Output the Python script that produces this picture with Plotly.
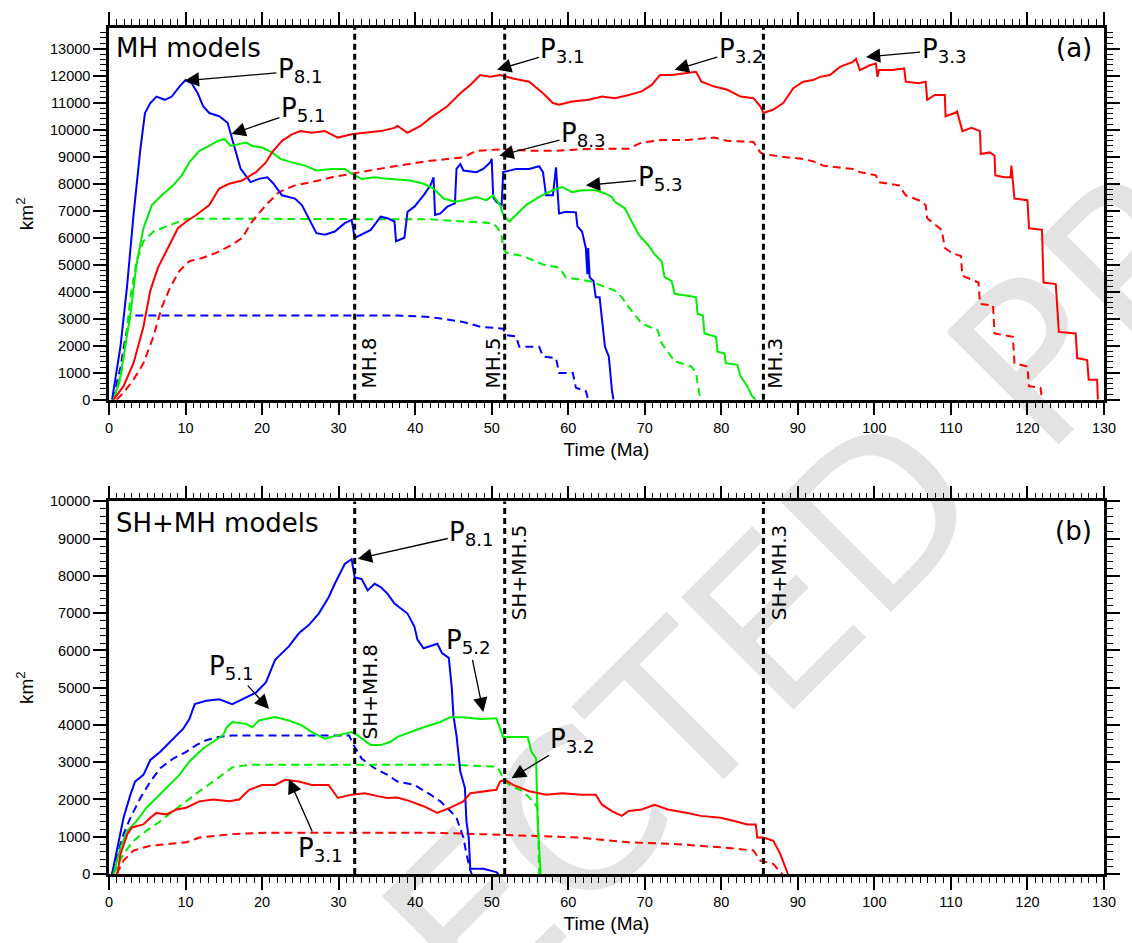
import plotly.graph_objects as go

# ---------------- DATA (Time in Ma, area in km^2) ----------------
# Panel (a): MH models
blue_mh_solid = [(0.4,0),(1.5,1976),(2.35,4170),(3.2,6840),(4.1,9280),(4.7,10620),(5.4,10990),(6.2,11230),
    (7.3,11110),(8.2,11230),(9.2,11600),(10.0,11840),(10.8,11720),(11.6,11350),(12.3,10870),(13.1,10620),
    (14.4,10500),(15.5,10260),(16.1,9650),(16.6,9160),(17.2,8550),(18.5,8060),(19.6,8180),(20.7,8240),
    (21.5,8000),(22.6,7570),(24.3,7450),(25.2,7210),(26.1,6720),(27.1,6170),(28.2,6110),(29.5,6230),
    (30.8,6540),(31.7,6660),(32.1,5990),(33.0,6110),(34.2,6290),(35.5,6780),(36.4,6720),(37.3,6600),
    (37.5,5870),(38.6,6000),(39.0,6960),(39.9,7150),(41.1,7570),(42.0,7940),(42.4,8240),(42.6,6840),
    (43.3,6900),(44.2,7150),(45.2,7270),(45.4,8550),(45.9,8730),(46.3,8490),(48.0,8430),(48.9,8550),
    (49.8,8790),(50.0,8920),(50.2,7510),(50.6,7330),(51.3,7210),(51.5,8430),(52.3,8490),(53.2,8550),
    (54.9,8550),(56.2,8650),(56.7,8430),(57.1,7570),(58.0,7570),(58.4,8610),(58.8,6900),(59.7,6960),
    (61.0,6940),(61.2,6420),(61.8,6230),(62.3,5620),(62.5,4650),(62.6,5620),(62.8,4530),(63.3,4400),
    (63.6,3790),(64.1,3790),(64.8,1960),(65.3,1600),(65.7,380),(65.9,0)]
blue_mh_dash = [(0.5,0),(1.5,1200),(2.2,2400),(2.8,3120),(10,3120),(20,3120),(30,3120),(37.7,3120),
    (42.0,3060),(46.3,2880),(48.5,2700),(51.5,2630),(51.9,2390),(53.2,2340),(53.6,1960),(56.2,1960),
    (56.7,1600),(58.4,1540),(58.8,990),(60.6,990),(61.0,440),(62.3,320),(62.6,0)]
green_mh_solid = [(0.6,0),(1.5,880),(2.8,3180),(3.6,5010),(4.5,6350),(5.6,7210),(6.9,7570),(8.4,7940),
    (9.5,8310),(10.5,8790),(11.8,9220),(13.1,9400),(14.2,9590),(15.1,9650),(15.9,9400),(17.0,9470),
    (17.9,9530),(18.7,9400),(20.0,9340),(21.3,9160),(22.4,8920),(23.9,8790),(25.6,8670),(27.1,8490),
    (29.1,8550),(30.8,8550),(31.7,8370),(33.0,8180),(34.7,8240),(36.4,8180),(37.7,8150),(39.4,8120),
    (41.1,8000),(42.4,7820),(43.7,7450),(45.2,7330),(46.3,7390),(48.0,7510),(49.3,7390),(50.2,7570),
    (51.1,7210),(51.5,6840),(52.3,6600),(53.2,6840),(54.5,7210),(56.2,7510),(58.0,7760),(59.2,7880),
    (60.5,7690),(61.8,7760),(63.6,7760),(64.8,7640),(65.7,7510),(66.1,7330),(67.4,7090),(68.3,6600),
    (69.2,6110),(70.4,5740),(71.3,5380),(72.2,5130),(72.6,4530),(73.5,4400),(73.9,3920),(75.6,3850),
    (76.7,3790),(76.9,3180),(77.6,3120),(77.8,2450),(79.3,2330),(79.5,1780),(80.4,1720),(80.6,1350),
    (82.1,1290),(82.5,870),(83.4,500),(84.0,140),(84.5,0)]
green_mh_dash = [(0.6,0),(1.5,770),(2.1,1960),(2.8,3790),(3.6,5130),(4.5,5870),(5.8,6230),(7.5,6420),
    (10.1,6700),(20,6700),(30,6700),(37.7,6700),(42.0,6680),(46.3,6600),(50.2,6540),(50.8,6350),
    (51.3,6110),(51.5,5620),(51.9,5440),(54.1,5320),(56.7,5010),(58.8,4890),(59.7,4530),(62.7,4400),
    (64.8,4160),(66.1,4040),(67.0,3790),(67.9,3430),(69.6,2820),(71.7,2570),(72.2,2090),(73.9,1420),
    (76.1,1230),(76.7,990),(77.1,260),(77.3,0)]
red_mh_solid = [(0.6,0),(1.9,500),(3.2,1350),(4.5,2700),(5.4,4040),(6.4,4890),(7.7,5620),(9.0,6350),
    (10.1,6600),(11.4,6840),(13.1,7210),(14.4,7820),(15.7,8000),(17.4,8120),(19.2,8430),(20.5,8790),
    (21.3,9160),(22.6,9590),(23.9,9830),(25.0,9950),(26.5,9890),(28.2,9950),(29.9,9710),(31.7,9830),
    (33.4,9890),(35.5,9950),(37.3,10070),(37.7,10140),(39.0,9890),(40.7,10140),(42.0,10440),
    (44.2,10870),(45.9,11350),(47.2,11660),(48.5,12030),(49.8,11960),(51.1,12030),(52.8,11900),
    (54.9,11780),(56.7,11350),(58.0,10990),(58.8,10930),(60.5,11050),(62.7,11110),(64.4,11230),
    (66.1,11170),(67.9,11290),(69.6,11420),(70.9,11660),(72.0,12030),(73.5,12030),(74.8,12090),
    (76.7,12150),(77.4,11780),(79.1,11600),(80.8,11480),(82.5,11230),(84.2,11170),(85.1,10870),
    (85.5,10620),(86.8,10750),(88.1,10990),(89.4,11540),(90.7,11780),(92.0,11840),(92.9,11960),
    (94.2,12030),(95.5,12330),(97.2,12510),(97.6,12630),(98.1,12210),(99.4,12390),(100.2,12450),
    (100.4,11960),(100.6,12210),(102.3,12210),(103.9,12270),(104.1,11780),(105.8,11720),(106.7,11780),
    (106.9,11110),(107.9,11290),(109.2,11290),(109.3,10500),(110.5,10620),(110.8,10680),(111.5,9950),
    (112.7,10070),(113.8,9950),(113.9,9100),(115.1,9160),(115.7,9040),(115.8,8310),(117.0,8240),
    (117.8,8240),(117.9,8670),(118.3,7450),(120.0,7390),(120.2,6350),(121.9,6290),(122.1,4340),
    (123.7,4280),(124.1,2510),(126.3,2450),(126.5,1540),(127.8,1470),(128.0,740),(129.1,740),(129.2,0)]
red_mh_dash = [(1.0,0),(1.9,260),(3.2,740),(4.5,1350),(5.8,2330),(6.9,3430),(8.0,4160),(9.2,4770),
    (10.5,5130),(12.3,5260),(14.0,5440),(16.1,5740),(17.4,5990),(18.7,6600),(20.5,7210),(22.2,7690),
    (24.3,7940),(26.5,8060),(29.1,8240),(31.7,8370),(34.2,8490),(37.7,8670),(42.0,8850),(46.3,8980),
    (48.0,9220),(51.5,9280),(54.9,9220),(58.4,9220),(61.8,9280),(64.8,9280),(67.9,9300),(69.6,9530),
    (72.2,9620),(75.6,9620),(79.1,9710),(80.8,9590),(84.2,9550),(85.1,9160),(85.5,9100),(88.5,8980),
    (90.7,8920),(92.5,8790),(93.3,8670),(95.1,8610),(97.2,8550),(98.1,8430),(100.2,8310),(100.6,8060),
    (103.2,7940),(104.1,7570),(105.8,7390),(106.7,7210),(106.9,6720),(108.8,6290),(109.2,5620),
    (110.1,5440),(111.3,5320),(111.5,4590),(113.6,4340),(113.8,3550),(115.5,3490),(115.7,2450),
    (118.1,2330),(118.3,1350),(120.0,1230),(120.2,500),(121.7,440),(121.9,0)]

# Panel (b): SH+MH models
blue_sh_solid = [(0.4,0),(1.1,716),(1.9,1510),(2.8,2130),(3.4,2480),(4.5,2660),(5.4,3060),(6.7,3280),
    (8.0,3550),(9.7,3900),(10.5,4160),(11.2,4560),(12.7,4650),(14.4,4690),(16.1,4560),(17.4,4690),
    (19.2,4870),(20.5,5140),(21.7,5750),(23.5,6110),(24.8,6460),(26.1,6680),(27.4,6990),(28.7,7430),
    (29.5,7790),(30.8,8320),(31.7,8450),(32.1,7960),(33.0,7920),(33.8,7610),(34.7,7790),(35.5,7700),
    (36.4,7520),(37.3,7260),(39.0,6990),(39.9,6640),(40.3,6290),(41.1,6060),(42.9,6180),(43.5,5930),
    (44.4,5800),(44.8,4960),(45.0,4250),(45.4,3720),(45.9,2750),(46.5,2310),(46.7,1420),(47.0,980),
    (47.2,140),(48.9,140),(50.6,50),(50.9,0)]
blue_sh_dash = [(0.4,0),(1.1,540),(1.9,1070),(2.8,1510),(4.1,2040),(5.4,2480),(6.7,2840),(8.4,3100),
    (10.1,3280),(11.4,3460),(12.7,3590),(14.4,3680),(16.1,3720),(20,3720),(25,3720),(31.4,3720),
    (31.7,3550),(33.0,3100),(34.7,2840),(36.4,2660),(37.7,2480),(39.9,2390),(42.0,2130),(43.3,1950),
    (44.6,1690),(45.4,1510),(46.3,980),(46.7,540),(47.2,100),(47.4,0)]
green_sh_solid = [(0.6,0),(1.5,716),(2.4,1160),(3.6,1420),(4.9,1780),(6.2,2040),(7.5,2310),(9.2,2660),
    (10.5,3020),(12.3,3370),(13.6,3550),(14.9,3720),(15.4,3940),(16.1,4080),(17.9,4030),(18.7,3940),
    (19.6,4120),(21.7,4210),(23.5,4120),(25.2,3990),(26.5,3810),(28.2,3630),(29.9,3720),(31.7,3810),
    (32.5,3720),(34.2,3460),(35.5,3460),(36.8,3550),(37.7,3680),(39.4,3810),(41.1,3940),(43.3,4080),
    (44.6,4210),(46.3,4210),(48.5,4160),(50.6,4180),(51.1,3900),(51.5,3680),(53.2,3680),(54.7,3680),
    (55.2,3280),(55.8,3100),(56.0,1420),(56.4,0)]
green_sh_dash = [(0.6,0),(1.9,540),(3.2,890),(4.9,1160),(6.7,1420),(8.4,1690),(10.1,1950),(11.8,2220),
    (13.6,2480),(15.3,2750),(16.1,2860),(18.3,2930),(25,2930),(35,2930),(45,2930),(50.6,2880),
    (51.1,2750),(51.5,2570),(52.3,2390),(54.1,2220),(55.4,1950),(56.0,1780),(56.2,0)]
red_sh_solid = [(1.1,0),(1.5,540),(2.4,1070),(3.0,1250),(4.5,1330),(5.4,1510),(6.2,1640),(7.5,1600),
    (8.8,1730),(10.1,1780),(11.8,1950),(13.6,2000),(15.7,1950),(17.0,2000),(18.3,2260),(20.0,2390),
    (21.7,2390),(23.0,2530),(24.8,2480),(26.5,2390),(28.7,2390),(29.9,2040),(31.7,2130),(33.4,2170),
    (35.1,2090),(36.4,2040),(37.7,2050),(39.4,1950),(41.1,1820),(42.9,1640),(44.6,1780),(46.3,1950),
    (47.2,2170),(48.9,2220),(50.6,2260),(51.1,2480),(51.7,2530),(52.8,2390),(54.9,2220),(57.1,2130),
    (59.2,2170),(61.8,2130),(63.6,2130),(64.4,1860),(65.7,1690),(67.0,1560),(67.9,1690),(69.6,1730),
    (71.3,1860),(73.0,1730),(75.6,1640),(77.3,1560),(79.9,1510),(81.7,1420),(83.4,1330),(84.5,1330),
    (84.7,980),(85.5,980),(86.8,890),(87.7,540),(88.3,190),(88.7,0)]
red_sh_dash = [(1.0,0),(1.9,360),(3.2,630),(5.4,760),(7.5,800),(10.1,850),(11.8,980),(16.1,1070),
    (20.5,1110),(30,1110),(42.0,1110),(48.5,1070),(54.9,1030),(61.4,980),(67.9,850),(74.3,800),
    (79.9,716),(84.2,630),(85.1,360),(86.8,270),(87.7,50),(88.0,0)]

# vertical reference lines (Ma) and their labels
vlines_a = [32.1, 51.7, 85.5]
vlabels_a = ["MH.8", "MH.5", "MH.3"]
vlines_b = [32.1, 51.7, 85.5]
vlabels_b = ["SH+MH.8", "SH+MH.5", "SH+MH.3"]

# tick values
xticks = list(range(0, 131, 10))
yticks_a = list(range(0, 13001, 1000))
yticks_b = list(range(0, 10001, 1000))

# ---------------- FIGURE ----------------
BLUE, GREEN, RED = "#0000ff", "#00ee00", "#ff0000"
DASH = "8px,5px"

fig = go.Figure()

def add(series, color, dash, xa, ya):
    xs = [p[0] for p in series]
    ys = [p[1] for p in series]
    fig.add_trace(go.Scatter(x=xs, y=ys, mode="lines", xaxis=xa, yaxis=ya,
                             line=dict(color=color, width=2, dash=dash), showlegend=False,
                             hoverinfo="skip"))

add(blue_mh_dash, BLUE, DASH, "x", "y")
add(green_mh_dash, GREEN, DASH, "x", "y")
add(red_mh_dash, RED, DASH, "x", "y")
add(blue_mh_solid, BLUE, "solid", "x", "y")
add(green_mh_solid, GREEN, "solid", "x", "y")
add(red_mh_solid, RED, "solid", "x", "y")

add(blue_sh_dash, BLUE, DASH, "x2", "y2")
add(green_sh_dash, GREEN, DASH, "x2", "y2")
add(red_sh_dash, RED, DASH, "x2", "y2")
add(blue_sh_solid, BLUE, "solid", "x2", "y2")
add(green_sh_solid, GREEN, "solid", "x2", "y2")
add(red_sh_solid, RED, "solid", "x2", "y2")

TICKFONT = dict(family="Liberation Sans, Arial, sans-serif", size=14.5, color="black")
TITLEFONT = dict(family="Liberation Sans, Arial, sans-serif", size=19, color="black")

def xaxis_cfg(anchor):
    return dict(range=[0, 130], tickvals=xticks, anchor=anchor, showline=True, linewidth=2.5,
                linecolor="black", mirror="ticks", ticks="outside", ticklen=13, tickwidth=1.5,
                tickcolor="black", minor=dict(dtick=1, ticks="outside", ticklen=6, tickwidth=1,
                                              tickcolor="black"),
                showgrid=False, zeroline=False, tickfont=TICKFONT, tickformat="d",
                title=dict(text="Time (Ma)", font=TITLEFONT, standoff=8))

def yaxis_cfg(anchor, rng, ticks_, domain):
    return dict(range=rng, tickvals=ticks_, anchor=anchor, domain=domain, showline=True,
                linewidth=2.5, linecolor="black", mirror="ticks", ticks="outside", ticklen=13,
                tickwidth=1.5, tickcolor="black", tickformat="d",
                minor=dict(dtick=200, ticks="outside", ticklen=6, tickwidth=1, tickcolor="black"),
                showgrid=False, zeroline=False, tickfont=TICKFONT,
                title=dict(text="km<sup>2</sup>", font=TITLEFONT, standoff=12))

fig.update_layout(
    width=1132, height=943,
    margin=dict(l=109, r=18, t=21, b=66),
    paper_bgcolor="white", plot_bgcolor="rgba(0,0,0,0)",
    xaxis=xaxis_cfg("y"),
    yaxis=yaxis_cfg("x", [0, 13770], yticks_a, [0.5607, 1.0]),
    xaxis2=xaxis_cfg("y2"),
    yaxis2=yaxis_cfg("x2", [0, 10000], yticks_b, [0.0, 0.4404]),
)

# watermark under everything
fig.add_shape(type="rect", xref="paper", yref="paper", x0=0.46, x1=0.81, y0=0.16, y1=0.41,
              line=dict(width=0), fillcolor="rgba(0,0,0,0)", layer="below",
              label=dict(text="CORRECTED PROOF", textangle=-45, textposition="middle center",
                         font=dict(family="DejaVu Sans", size=218, color="#e3e3e3")))

for xv in vlines_a:
    fig.add_shape(type="line", xref="x", yref="y domain", x0=xv, x1=xv, y0=0, y1=1,
                  line=dict(color="black", width=3, dash="6px,4px"))
for xv in vlines_b:
    fig.add_shape(type="line", xref="x2", yref="y2 domain", x0=xv, x1=xv, y0=0, y1=1,
                  line=dict(color="black", width=3, dash="6px,4px"))

LBL = dict(family="DejaVu Sans", size=20, color="black")
BIG = dict(family="DejaVu Sans", size=26, color="black")

# vertical-line labels
for xv, txt, xpos, ypos in zip(vlines_a, vlabels_a, [34.0, 50.2, 87.1], [1350, 1350, 1350]):
    fig.add_annotation(x=xpos, y=ypos, xref="x", yref="y", text=txt, textangle=-90,
                       showarrow=False, font=LBL)
for xv, txt, xpos, ypos in zip(vlines_b, vlabels_b, [34.1, 53.5, 87.5], [4900, 8110, 8090]):
    fig.add_annotation(x=xpos, y=ypos, xref="x2", yref="y2", text=txt, textangle=-90,
                       showarrow=False, font=LBL)

# panel titles
fig.add_annotation(x=0.005, y=0.997, xref="paper", yref="paper", xanchor="left", yanchor="top",
                   text="MH models", showarrow=False, font=BIG)
fig.add_annotation(x=0.99, y=0.997, xref="paper", yref="paper", xanchor="right", yanchor="top",
                   text="(a)", showarrow=False, font=BIG)
fig.add_annotation(x=0.005, y=0.4404 - 0.005, xref="paper", yref="paper", xanchor="left",
                   yanchor="top", text="SH+MH models", showarrow=False, font=BIG)
fig.add_annotation(x=0.99, y=0.4404 - 0.015, xref="paper", yref="paper", xanchor="right",
                   yanchor="top", text="(b)", showarrow=False, font=BIG)

# arrowed labels: (text, head_x, head_y, text_x, text_y, panel)
arrow_labels = [
    ("P<sub>8.1</sub>", 9.9, 11820, 25.0, 12180, "a"),
    ("P<sub>5.1</sub>", 16.0, 9840, 25.4, 10760, "a"),
    ("P<sub>3.1</sub>", 50.7, 12220, 59.3, 12950, "a"),
    ("P<sub>3.2</sub>", 73.9, 12220, 82.6, 12950, "a"),
    ("P<sub>3.3</sub>", 98.9, 12700, 109.1, 12950, "a"),
    ("P<sub>8.3</sub>", 51.0, 9040, 62.0, 9840, "a"),
    ("P<sub>5.3</sub>", 62.3, 7940, 72.0, 8200, "a"),
    ("P<sub>8.1</sub>", 32.5, 8460, 47.4, 9150, "b"),
    ("P<sub>5.1</sub>", 20.9, 4430, 16.0, 5540, "b"),
    ("P<sub>3.1</sub>", 23.5, 2550, 27.6, 660, "b"),
    ("P<sub>5.2</sub>", 48.9, 4350, 47.0, 6230, "b"),
    ("P<sub>3.2</sub>", 52.6, 2570, 60.6, 3580, "b"),
]
for txt, hx, hy, tx, ty, pnl in arrow_labels:
    xr, yr = ("x", "y") if pnl == "a" else ("x2", "y2")
    fig.add_annotation(x=hx, y=hy, ax=tx, ay=ty, xref=xr, yref=yr, axref=xr, ayref=yr,
                       text=txt, showarrow=True, arrowhead=2, arrowsize=2.2, arrowwidth=1.3,
                       arrowcolor="black", font=BIG)

fig.write_html("out.html")
